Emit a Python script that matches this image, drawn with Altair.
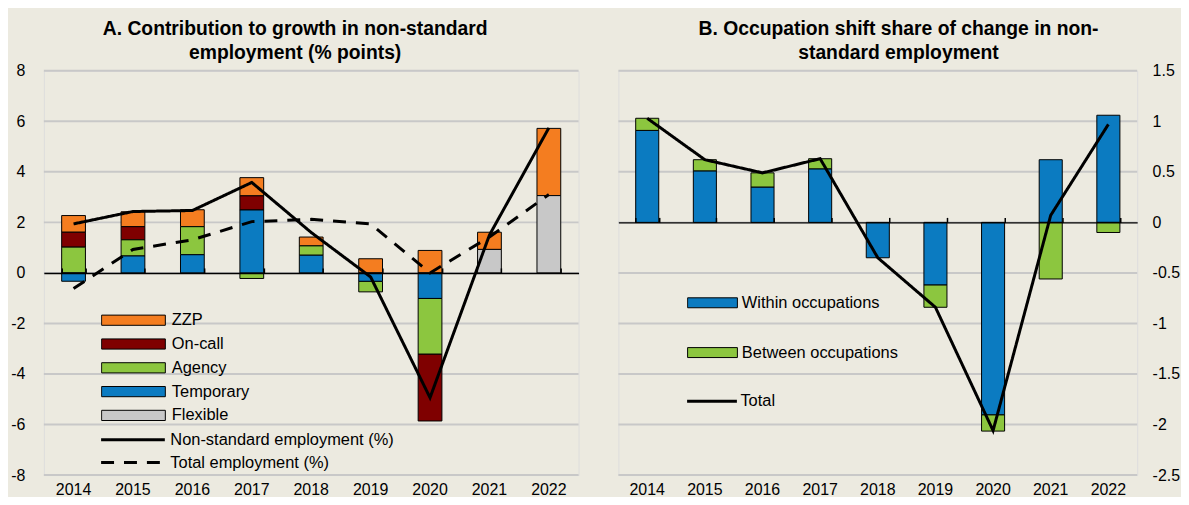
import altair as alt
import pandas as pd

# ---------------- data ----------------
years = ["2014", "2015", "2016", "2017", "2018", "2019", "2020", "2021", "2022"]

# Panel A: contributions (% points)
cats_a = ["ZZP", "On-call", "Agency", "Temporary", "Flexible"]
colors_a = ["#F47D20", "#7F0000", "#8CC63F", "#0B7BC1", "#C8C8C8"]
flexible = [0, 0, 0, 0, 0, 0, 0, 0.93, 3.06]
temporary = [-0.33, 0.67, 0.72, 2.49, 0.70, -0.33, -1.01, 0, 0]
agency = [1.02, 0.64, 1.11, -0.22, 0.37, -0.42, -2.20, 0, 0]
oncall = [0.59, 0.52, 0, 0.56, 0, 0, -2.65, 0, 0]
zzp = [0.66, 0.59, 0.67, 0.72, 0.35, 0.56, 0.89, 0.68, 2.66]

lines_a = ["Non-standard employment (%)", "Total employment (%)"]
nonstd = [1.94, 2.43, 2.47, 3.58, 1.60, -0.16, -4.94, 1.50, 5.74]
total_emp = [-0.62, 0.93, 1.31, 2.03, 2.12, 1.94, 0.0, 1.42, 3.10]

# Panel B: occupation shift share
cats_b = ["Within occupations", "Between occupations"]
colors_b = ["#0B7BC1", "#8CC63F"]
within = [0.91, 0.51, 0.35, 0.53, -0.35, -0.62, -1.905, 0.62, 1.06]
between = [0.12, 0.11, 0.14, 0.10, 0, -0.22, -0.16, -0.56, -0.10]
total_b = [1.03, 0.62, 0.49, 0.63, -0.35, -0.84, -2.06, 0.07, 0.97]

yticks_a = [-8, -6, -4, -2, 0, 2, 4, 6, 8]
yticks_b = [-2.5, -2, -1.5, -1, -0.5, 0, 0.5, 1, 1.5]

# ---------------- tables ----------------
stack_order_a = {"Flexible": 0, "Temporary": 1, "Agency": 2, "On-call": 3, "ZZP": 4}
series_a = {"ZZP": zzp, "On-call": oncall, "Agency": agency,
            "Temporary": temporary, "Flexible": flexible}
rows = []
for c, vals in series_a.items():
    for y, v in zip(years, vals):
        if v != 0:
            rows.append({"year": y, "cat": c, "value": v, "ord": stack_order_a[c]})
df_bars_a = pd.DataFrame(rows)

rows = []
for name, vals in zip(lines_a, [nonstd, total_emp]):
    for y, v in zip(years, vals):
        rows.append({"year": y, "series": name, "value": v})
df_lines_a = pd.DataFrame(rows)

rows = []
for i, (c, vals) in enumerate(zip(cats_b, [within, between])):
    for y, v in zip(years, vals):
        if v != 0:
            rows.append({"year": y, "cat": c, "value": v, "ord": i})
df_bars_b = pd.DataFrame(rows)

df_line_b = pd.DataFrame({"year": years, "series": ["Total"] * len(years), "value": total_b})
df_grid_a = pd.DataFrame({"value": yticks_a})
df_grid_b = pd.DataFrame({"value": yticks_b})

# ---------------- style ----------------
FONT = "Arial, Liberation Sans, sans-serif"
BG = "#ECEAE0"
GRID = "#C8C8C8"
W_A, W_B, H = 537, 521, 406

xscale = alt.Scale(paddingInner=0.6, paddingOuter=0.3)
yscale_a = alt.Scale(domain=[-8, 8], nice=False, zero=False)
yscale_b = alt.Scale(domain=[-2.5, 1.5], nice=False, zero=False)


def bottom_axis():
    return alt.Axis(title=None, orient="bottom", ticks=False, domain=False,
                    labelFontSize=16, labelPadding=7, labelColor="black",
                    labelFont=FONT, labelAngle=0, grid=False)


def zero_axis(offset):
    return alt.Axis(title=None, orient="top", labels=False, domain=True,
                    domainColor="black", domainWidth=1.5, ticks=True,
                    tickColor="black", tickWidth=1.5, tickSize=5,
                    tickBand="extent", offset=offset, grid=False, zindex=1)


def y_axis_a():
    return alt.Axis(title=None, values=yticks_a, ticks=False, domain=False,
                    grid=False, labelFontSize=16, labelPadding=19, labelColor="black",
                    labelFont=FONT, labelExpr="datum.value + ''")


def y_axis_b():
    return alt.Axis(title=None, orient="right", values=yticks_b, ticks=False,
                    domain=False, grid=False, labelFontSize=16, labelPadding=15,
                    labelColor="black", labelFont=FONT, labelExpr="datum.value + ''")


rect_path_a = "M-1,-0.16L1,-0.16L1,0.16L-1,0.16Z"
rect_path_b = "M-1,-0.2L1,-0.2L1,0.2L-1,0.2Z"

# ---------------- panel A ----------------
grid_a = alt.Chart(df_grid_a).mark_rule(color=GRID, strokeWidth=2).encode(
    y=alt.Y("value:Q", scale=yscale_a, axis=y_axis_a()),
)

bars_a = alt.Chart(df_bars_a).mark_bar(stroke="black", strokeWidth=1).encode(
    x=alt.X("year:N", scale=xscale, axis=bottom_axis()),
    y=alt.Y("value:Q", stack="zero", scale=yscale_a, axis=y_axis_a()),
    color=alt.Color("cat:N", scale=alt.Scale(domain=cats_a, range=colors_a),
                    legend=alt.Legend(title=None, orient="none", legendX=57.5, legendY=242,
                                      direction="vertical", symbolType=rect_path_a,
                                      symbolSize=4096, symbolStrokeColor="black",
                                      symbolStrokeWidth=1, clipHeight=17, rowPadding=6.9,
                                      labelFontSize=16.5, labelFont=FONT, labelColor="black",
                                      labelOffset=6, padding=0, symbolOpacity=1,
                                      labelLimit=400)),
    order=alt.Order("ord:Q", sort="ascending"),
)

lines_a_chart = alt.Chart(df_lines_a).mark_line(color="black", strokeWidth=3).encode(
    x=alt.X("year:N", scale=xscale, axis=zero_axis(-H / 2)),
    y=alt.Y("value:Q", scale=yscale_a, axis=y_axis_a()),
    strokeDash=alt.StrokeDash("series:N",
                              scale=alt.Scale(domain=lines_a, range=[[1, 0], [13, 10]]),
                              legend=alt.Legend(title=None, orient="none", legendX=56,
                                                legendY=362, direction="vertical",
                                                symbolType="stroke", symbolSize=4096,
                                                symbolStrokeColor="black", symbolStrokeWidth=3,
                                                clipHeight=17, rowPadding=6,
                                                labelFontSize=16.5, labelFont=FONT,
                                                labelColor="black", labelOffset=4, padding=0,
                                                labelLimit=400)),
)

panel_a = alt.layer(grid_a, bars_a, lines_a_chart).resolve_axis(x="independent").properties(
    width=W_A, height=H,
    title=alt.TitleParams(text=["A. Contribution to growth in non-standard",
                                "employment  (% points)"],
                          fontSize=19.4, fontWeight="bold", font=FONT, color="black",
                          anchor="middle", frame="bounds", lineHeight=25, offset=-1),
)

# ---------------- panel B ----------------
grid_b = alt.Chart(df_grid_b).mark_rule(color=GRID, strokeWidth=2).encode(
    y=alt.Y("value:Q", scale=yscale_b, axis=y_axis_b()),
)

bars_b = alt.Chart(df_bars_b).mark_bar(stroke="black", strokeWidth=1).encode(
    x=alt.X("year:N", scale=xscale, axis=bottom_axis()),
    y=alt.Y("value:Q", stack="zero", scale=yscale_b, axis=y_axis_b()),
    color=alt.Color("cat:N", scale=alt.Scale(domain=cats_b, range=colors_b),
                    legend=alt.Legend(title=None, orient="none", legendX=69, legendY=224.5,
                                      direction="vertical", symbolType=rect_path_b,
                                      symbolSize=2500, symbolStrokeColor="black",
                                      symbolStrokeWidth=1, clipHeight=17, rowPadding=33,
                                      labelFontSize=16.5, labelFont=FONT, labelColor="black",
                                      labelOffset=4, padding=0, symbolOpacity=1,
                                      labelLimit=400)),
    order=alt.Order("ord:Q", sort="ascending"),
)

line_b = alt.Chart(df_line_b).mark_line(color="black", strokeWidth=3).encode(
    x=alt.X("year:N", scale=xscale, axis=zero_axis(-H * 1.5 / 4)),
    y=alt.Y("value:Q", scale=yscale_b, axis=y_axis_b()),
    strokeDash=alt.StrokeDash("series:N",
                              scale=alt.Scale(domain=["Total"], range=[[1, 0]]),
                              legend=alt.Legend(title=None, orient="none", legendX=67.5,
                                                legendY=323.5, direction="vertical",
                                                symbolType="stroke", symbolSize=2500,
                                                symbolStrokeColor="black", symbolStrokeWidth=3,
                                                clipHeight=17, labelFontSize=16.5,
                                                labelFont=FONT, labelColor="black",
                                                labelOffset=2, padding=0, labelLimit=400)),
)

panel_b = alt.layer(grid_b, bars_b, line_b).resolve_axis(x="independent").properties(
    width=W_B, height=H,
    title=alt.TitleParams(text=["B. Occupation shift share of change in non-",
                                "standard employment"],
                          fontSize=19.4, fontWeight="bold", font=FONT, color="black",
                          anchor="middle", frame="bounds", lineHeight=25, offset=-1),
)

chart = alt.hconcat(panel_a, panel_b, spacing=36).resolve_scale(
    color="independent", strokeDash="independent", y="independent"
).properties(
    background=BG,
    padding={"left": 2, "top": 9, "right": 0, "bottom": -3},
).configure_view(
    fill="white", stroke=None
).configure(font=FONT)

chart.save("out.html", embed_options={"renderer": "svg", "actions": False})
